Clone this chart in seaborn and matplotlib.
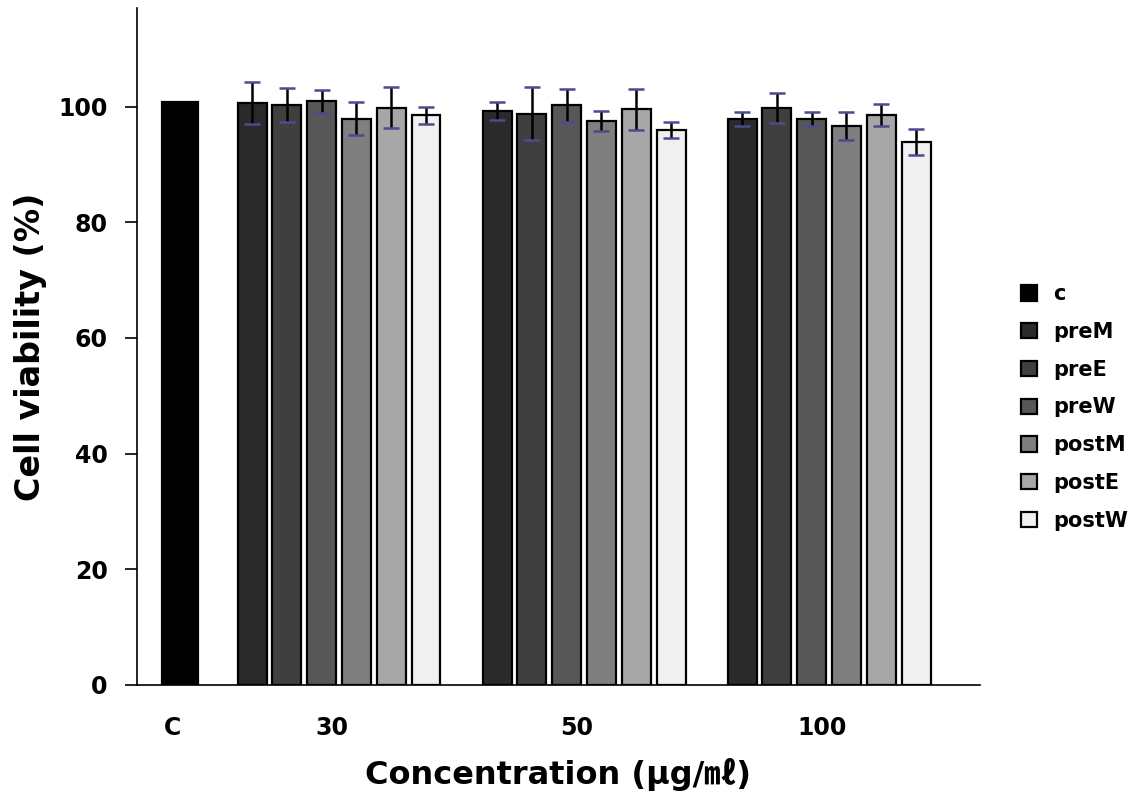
import pandas as pd
import matplotlib
matplotlib.use("Agg")
import matplotlib.pyplot as plt
import seaborn as sns

# data
samples = ["c", "preM", "preE", "preW", "postM", "postE", "postW"]
treatments = ["preM", "preE", "preW", "postM", "postE", "postW"]
conc_labels = ["C", "30", "50", "100"]
concs = ["30", "50", "100"]

control_value = 100.8

values_30 = [100.6, 100.3, 100.9, 97.9, 99.8, 98.5]
errors_30 = [3.6, 2.9, 2.0, 2.9, 3.5, 1.5]
values_50 = [99.2, 98.8, 100.2, 97.5, 99.5, 95.9]
errors_50 = [1.6, 4.6, 2.8, 1.8, 3.6, 1.4]
values_100 = [97.9, 99.7, 97.9, 96.7, 98.5, 93.9]
errors_100 = [1.2, 2.6, 1.2, 2.4, 1.9, 2.2]

colors = ["#000000", "#2a2a2a", "#3f3f3f", "#575757", "#7f7f7f", "#a7a7a7", "#f0f0f0"]

# layout: group centres on a numeric axis, bars offset inside each group
group_pos = {"30": 0.0, "50": 1.0, "100": 2.0}
control_pos = -0.65
pitch = 0.142

rows = [{"conc": "C", "sample": "c", "value": control_value, "err": 0.0, "x": control_pos}]
for conc, vals, errs in [("30", values_30, errors_30), ("50", values_50, errors_50),
                         ("100", values_100, errors_100)]:
    for i, (s, v, e) in enumerate(zip(treatments, vals, errs)):
        rows.append({"conc": conc, "sample": s, "value": v, "err": e,
                     "x": round(group_pos[conc] + (i - 2.5) * pitch, 4)})
df = pd.DataFrame(rows)

sns.set_style("ticks")
plt.rcParams["font.family"] = ["DejaVu Sans", "Noto Sans CJK KR"]
plt.rcParams["font.weight"] = "bold"
for key in ["text.color", "axes.labelcolor", "xtick.color", "ytick.color", "axes.edgecolor"]:
    plt.rcParams[key] = "black"

fig = plt.figure(figsize=(11.39, 7.99), dpi=100)
ax = fig.add_axes([0.120, 0.1427, 0.740, 0.847])

sns.barplot(data=df, x="x", y="value", hue="sample", hue_order=samples,
            palette=dict(zip(samples, colors)), native_scale=True, dodge=False,
            width=0.83, edgecolor="black", linewidth=1.6, errorbar=None, ax=ax)

# control bar is a bit wider in the original
for p in ax.patches:
    if abs(p.get_x() + p.get_width() / 2 - control_pos) < 0.01:
        w = 0.147
        p.set_x(control_pos - w / 2)
        p.set_width(w)

# error bars: black stems, bluish caps
err = df[df["sample"] != "c"]
_, caps, _ = ax.errorbar(err["x"], err["value"], yerr=err["err"], fmt="none",
                         ecolor="black", elinewidth=1.8, capsize=6, capthick=1.8,
                         zorder=5)
for cap in caps:
    cap.set_markeredgecolor("#4b4b8f")

ax.set_xlim(-0.826, 2.614)
ax.set_ylim(0, 117)
ax.set_yticks([0, 20, 40, 60, 80, 100])
ax.set_xticks([control_pos - 0.03] + [group_pos[c] - 0.03 for c in concs])
ax.set_xticklabels(conc_labels)
ax.tick_params(axis="x", length=0, pad=22, labelsize=17)
ax.tick_params(axis="y", length=9, width=1.2, pad=12, labelsize=17)
for lab in ax.get_xticklabels() + ax.get_yticklabels():
    lab.set_fontweight("bold")

ax.set_ylabel("Cell viability (%)", fontsize=24, fontweight="bold", labelpad=8)
ax.set_xlabel("Concentration (μg/㎖)", fontsize=23, fontweight="bold", labelpad=13)

sns.despine(ax=ax)
ax.spines["left"].set_linewidth(1.2)
ax.spines["bottom"].set_linewidth(1.2)

handles, labels = ax.get_legend_handles_labels()
ax.legend(handles, labels, frameon=False, loc="center left",
          bbox_to_anchor=(0.88, 0.49), bbox_transform=fig.transFigure,
          handlelength=0.75, handleheight=0.75, labelspacing=0.85, handletextpad=0.8,
          prop={"weight": "bold", "size": 15})

fig.savefig("out.png", dpi=100)
